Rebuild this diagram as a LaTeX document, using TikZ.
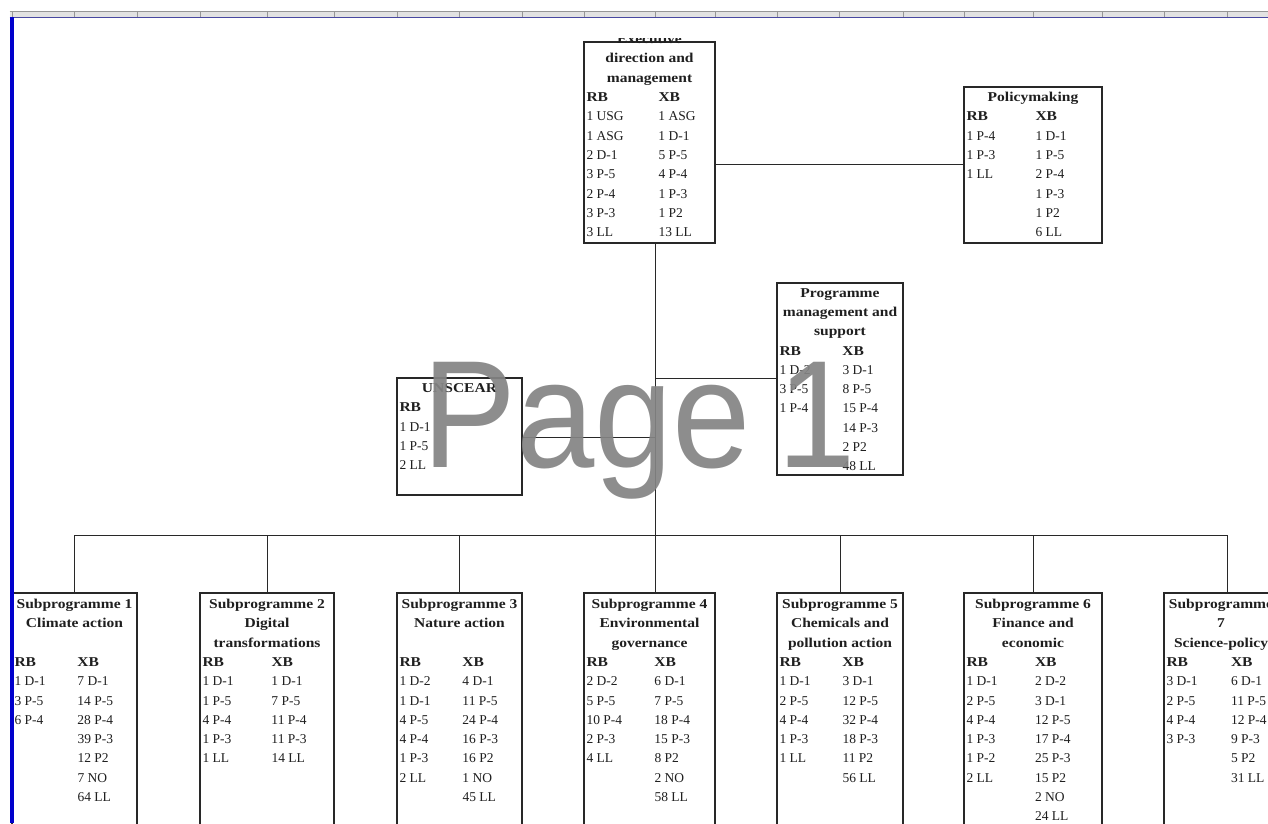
\documentclass[tikz,border=0pt]{standalone}
\usepackage{fontspec}
\setmainfont{Liberation Serif}[BoldFeatures={FakeStretch=1.15}]
\newfontfamily\wmfont{Liberation Sans}[FakeStretch=0.92]
\usepackage{array}
\usetikzlibrary{calc}
\definecolor{wmgray}{RGB}{132,132,132}
\definecolor{barblue}{RGB}{0,0,204}
\definecolor{lineblue}{RGB}{72,72,160}
\definecolor{rulergray}{RGB}{226,226,226}
\definecolor{tickgray}{RGB}{150,150,150}
\definecolor{boxline}{RGB}{40,40,40}
\newcommand\ttl[1]{\multicolumn{2}{@{}c@{}}{\bfseries #1}\\}
\newcommand\hd{\textbf{RB} & \textbf{XB}\\}
\newcommand\cols[3]{\begin{tabular}{@{}p{#1pt}@{}p{#2pt}@{}}#3\end{tabular}}
\tikzset{
  orgbox/.style={draw=boxline, line width=1.2pt, rectangle, inner sep=0pt, outer sep=0pt, anchor=north west},
  orgtext/.style={anchor=north west, inner sep=0pt, outer sep=0pt, text=black!88, font=\fontsize{13.5}{19.3}\selectfont},
  link/.style={draw=boxline, line width=1pt},
  wmtext/.style={anchor=base west, inner sep=0pt, text=wmgray, opacity=0.92, font=\wmfont\fontsize{153}{153}\selectfont},
}
\begin{document}
\begin{tikzpicture}[x=1pt, y=-1pt]
\useasboundingbox (0,0) rectangle (1268,823);
\clip (0,0) rectangle (1268,823);
\fill[white] (0,0) rectangle (1268,823);

% boxes
\node[orgbox, minimum width=131pt, minimum height=201pt] (exec) at (584,42) {};
\node[orgbox, minimum width=138pt, minimum height=156pt] (policy) at (964,87) {};
\node[orgbox, minimum width=126pt, minimum height=192pt] (prog) at (777,283) {};
\node[orgbox, minimum width=125pt, minimum height=117pt] (unscear) at (397,378) {};
\node[orgbox, minimum width=125pt, minimum height=260pt] (sp1) at (12,593) {};
\node[orgbox, minimum width=134pt, minimum height=260pt] (sp2) at (200,593) {};
\node[orgbox, minimum width=125pt, minimum height=260pt] (sp3) at (397,593) {};
\node[orgbox, minimum width=131pt, minimum height=260pt] (sp4) at (584,593) {};
\node[orgbox, minimum width=126pt, minimum height=260pt] (sp5) at (777,593) {};
\node[orgbox, minimum width=138pt, minimum height=260pt] (sp6) at (964,593) {};
\node[orgbox, minimum width=114pt, minimum height=260pt] (sp7) at (1164,593) {};

% connectors
\coordinate (trunk) at (655,535);
\coordinate (busR) at (1227,535);
\coordinate (epy) at (0,164);
\coordinate (pmy) at (0,378);
\coordinate (uny) at (0,437);
\draw[link] (exec.east |- epy) -- (policy.west |- epy);
\draw[link] (exec.south -| trunk) -- (trunk);
\draw[link] (trunk |- pmy) -- (prog.west |- pmy);
\draw[link] (unscear.east |- uny) -- (trunk |- uny);
\draw[link] (sp1.north |- trunk) -- (busR);
\draw[link] (sp1.north |- trunk) -- (sp1.north);
\draw[link] (sp2.north |- trunk) -- (sp2.north);
\draw[link] (sp3.north |- trunk) -- (sp3.north);
\draw[link] (trunk) -- (sp4.north -| trunk);
\draw[link] (sp5.north |- trunk) -- (sp5.north);
\draw[link] (sp6.north |- trunk) -- (sp6.north);
\draw[link] (busR) -- (sp7.north -| busR);

% texts
\begin{scope}
\clip (584,38) rectangle (716,243);
\node[orgtext] (exec-t) at (586.5,30.1) {\cols{72}{54}{\ttl{Executive}\ttl{direction and}\ttl{management}\hd
1 USG & 1 ASG\\ 1 ASG & 1 D-1\\ 2 D-1 & 5 P-5\\ 3 P-5 & 4 P-4\\ 2 P-4 & 1 P-3\\ 3 P-3 & 1 P2\\ 3 LL & 13 LL}};
\end{scope}
\node[orgtext] (policy-t) at (966.5,88) {\cols{69}{64}{\ttl{Policymaking}\hd
1 P-4 & 1 D-1\\ 1 P-3 & 1 P-5\\ 1 LL & 2 P-4\\ & 1 P-3\\ & 1 P2\\ & 6 LL}};
\node[orgtext] (prog-t) at (779.5,283.6) {\cols{63}{58}{\ttl{Programme}\ttl{management and}\ttl{support}\hd
1 D-2 & 3 D-1\\ 3 P-5 & 8 P-5\\ 1 P-4 & 15 P-4\\ & 14 P-3\\ & 2 P2\\ & 48 LL}};
\node[orgtext] (unscear-t) at (399.5,379) {\cols{63}{57}{\ttl{UNSCEAR}\textbf{RB} & \\
1 D-1 & \\ 1 P-5 & \\ 2 LL & }};
\node[orgtext] (sp1-t) at (14.5,595) {\cols{63}{57}{\ttl{Subprogramme 1}\ttl{Climate action} & \\ \hd
1 D-1 & 7 D-1\\ 3 P-5 & 14 P-5\\ 6 P-4 & 28 P-4\\ & 39 P-3\\ & 12 P2\\ & 7 NO\\ & 64 LL}};
\node[orgtext] (sp2-t) at (202.5,595) {\cols{69}{60}{\ttl{Subprogramme 2}\ttl{Digital}\ttl{transformations}\hd
1 D-1 & 1 D-1\\ 1 P-5 & 7 P-5\\ 4 P-4 & 11 P-4\\ 1 P-3 & 11 P-3\\ 1 LL & 14 LL}};
\node[orgtext] (sp3-t) at (399.5,595) {\cols{63}{57}{\ttl{Subprogramme 3}\ttl{Nature action} & \\ \hd
1 D-2 & 4 D-1\\ 1 D-1 & 11 P-5\\ 4 P-5 & 24 P-4\\ 4 P-4 & 16 P-3\\ 1 P-3 & 16 P2\\ 2 LL & 1 NO\\ & 45 LL}};
\node[orgtext] (sp4-t) at (586.5,595) {\cols{68}{58}{\ttl{Subprogramme 4}\ttl{Environmental}\ttl{governance}\hd
2 D-2 & 6 D-1\\ 5 P-5 & 7 P-5\\ 10 P-4 & 18 P-4\\ 2 P-3 & 15 P-3\\ 4 LL & 8 P2\\ & 2 NO\\ & 58 LL}};
\node[orgtext] (sp5-t) at (779.5,595) {\cols{63}{58}{\ttl{Subprogramme 5}\ttl{Chemicals and}\ttl{pollution action}\hd
1 D-1 & 3 D-1\\ 2 P-5 & 12 P-5\\ 4 P-4 & 32 P-4\\ 1 P-3 & 18 P-3\\ 1 LL & 11 P2\\ & 56 LL}};
\node[orgtext] (sp6-t) at (966.5,595) {\cols{68.5}{64.5}{\ttl{Subprogramme 6}\ttl{Finance and}\ttl{economic}\hd
1 D-1 & 2 D-2\\ 2 P-5 & 3 D-1\\ 4 P-4 & 12 P-5\\ 1 P-3 & 17 P-4\\ 1 P-2 & 25 P-3\\ 2 LL & 15 P2\\ & 2 NO\\ & 24 LL}};
\node[orgtext] (sp7-t) at (1166.5,595) {\cols{64.5}{44.5}{\ttl{Subprogramme}\ttl{7}\ttl{Science-policy}\hd
3 D-1 & 6 D-1\\ 2 P-5 & 11 P-5\\ 4 P-4 & 12 P-4\\ 3 P-3 & 9 P-3\\ & 5 P2\\ & 31 LL}};

% watermark
\node[wmtext] (wm) at (422,467) {Page\kern-12pt\ 1};

% sheet frame: ruler and borders
\fill[rulergray] (9.5,11.5) rectangle (1268,16.5);
\draw[tickgray, line width=0.6pt] (9.5,11.5) -- (1268,11.5);
\foreach \t in {12,74,137,200,267,334,397,459,522,584,655,715,777,839,903,964,1033,1102,1164,1227}
  \draw[tickgray, line width=0.8pt] (\t,11.5) -- (\t,16.5);
\draw[lineblue, line width=1.6pt] (9.5,17.3) -- (1268,17.3);
\fill[barblue] (9.5,16.5) rectangle (13.5,823);
\end{tikzpicture}
\end{document}
